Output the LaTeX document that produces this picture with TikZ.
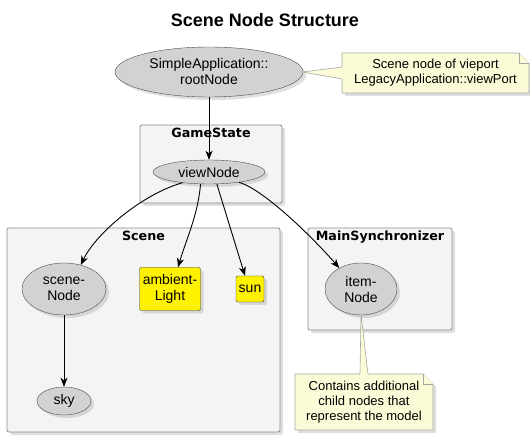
\documentclass[tikz,border=0pt]{standalone}
\usepackage{fontspec}
\setmainfont{Liberation Sans}
\newfontfamily\framefont{DejaVu Sans}
\usetikzlibrary{shapes.geometric,arrows.meta,shadows}
\definecolor{ellfill}{HTML}{D2D2D2}
\definecolor{framefill}{HTML}{F4F4F4}
\definecolor{notefill}{HTML}{FBFBD7}
\begin{document}
\begin{tikzpicture}[x=1pt, y=-1pt,
    shade/.style={drop shadow={shadow xshift=3pt, shadow yshift=-3pt, opacity=0.25}},
    ellnode/.style={ellipse, draw=black!70, fill=ellfill, inner sep=0pt, align=center, font=\fontsize{14}{16}\selectfont, shade},
    lightbox/.style={rectangle, rounded corners=2pt, draw=black!80, fill=yellow, inner sep=0pt, align=center, font=\fontsize{14}{16}\selectfont, shade},
    framebox/.style={rectangle, rounded corners=2pt, draw=black!45, fill=framefill, line width=0.8pt, shade},
    framelabel/.style={anchor=north, inner sep=0pt, font=\framefont\bfseries\fontsize{12.7}{15}\selectfont},
    notebody/.style={draw=black!35, fill=notefill, line width=0.6pt},
    notetext/.style={align=center, inner sep=0pt, font=\fontsize{13}{15}\selectfont},
    link/.style={-{Stealth[length=9pt, width=7pt, inset=2.5pt]}, line width=0.9pt}]
    \useasboundingbox (0,0) rectangle (530,443);
    \node[font=\bfseries\fontsize{18}{20}\selectfont] (title) at (265,20) {Scene Node Structure};
    % frames
    \node[framebox, minimum width=142pt, minimum height=78pt] (gamestate) at (211,164) {};
    \node[framelabel] at ([yshift=-3pt]gamestate.north) {GameState};
    \node[framebox, minimum width=273pt, minimum height=204pt] (scene) at (143.5,330) {};
    \node[framelabel] at ([yshift=-3pt]scene.north) {Scene};
    \node[framebox, minimum width=144pt, minimum height=102pt] (mainsync) at (380,279) {};
    \node[framelabel] at ([yshift=-3pt]mainsync.north) {MainSynchronizer};
    % notes
    \path[notebody, shade] (342,53) -- (519,53) -- (529,63) -- (529,93) -- (342,93) -- cycle;
    \draw[notebody] (519,53) -- (519,63) -- (529,63);
    \node[notetext] (vpnote) at (435.5,73) {Scene node of vieport\\LegacyApplication::viewPort};
    \path[notebody, shade] (295,374) -- (423,374) -- (433,384) -- (433,430) -- (295,430) -- cycle;
    \draw[notebody] (423,374) -- (423,384) -- (433,384);
    \node[notetext] (modelnote) at (364,402) {Contains additional\\child nodes that\\represent the model};
    % nodes
    \node[ellnode, minimum width=188pt, minimum height=50pt] (root) at (209,72) {SimpleApplication::\\rootNode};
    \node[ellnode, minimum width=112pt, minimum height=24pt] (view) at (209,172) {viewNode};
    \node[ellnode, minimum width=84pt, minimum height=52pt] (scenenode) at (64,289) {scene-\\Node};
    \node[ellnode, minimum width=54pt, minimum height=28pt] (sky) at (64,401) {sky};
    \node[lightbox, minimum width=61pt, minimum height=43pt] (ambient) at (170,289) {ambient-\\Light};
    \node[lightbox, minimum width=28pt, minimum height=26pt] (sun) at (250,289) {sun};
    \node[ellnode, minimum width=72pt, minimum height=52pt] (item) at (361,289) {item-\\Node};
    % note links
    \coordinate (vpnote a) at (342.5,67);
    \coordinate (vpnote b) at (342.5,79);
    \path[notebody] ([xshift=-1pt]root.east) -- (vpnote a) -- (vpnote b) -- cycle;
    \draw[notefill, line width=1.2pt] (vpnote a) -- (vpnote b);
    \coordinate (modelnote a) at (360,374.5);
    \coordinate (modelnote b) at (368,374.5);
    \path[notebody] ([yshift=1pt]item.south) -- (modelnote a) -- (modelnote b) -- cycle;
    \draw[notefill, line width=1.2pt] (modelnote a) -- (modelnote b);
    % links
    \draw[link] (root) -- (view);
    \draw[link] (view.202) .. controls (140,195) and (95,235) .. (scenenode.55);
    \draw[link] (view.235) .. controls (198,215) and (186,240) .. ([xshift=8pt]ambient.north);
    \draw[link] (view.303) -- ([xshift=-5pt]sun.north);
    \draw[link] (view.341) .. controls (265,190) and (315,240) .. (item.136);
    \draw[link] (scenenode) -- (sky);
\end{tikzpicture}
\end{document}
